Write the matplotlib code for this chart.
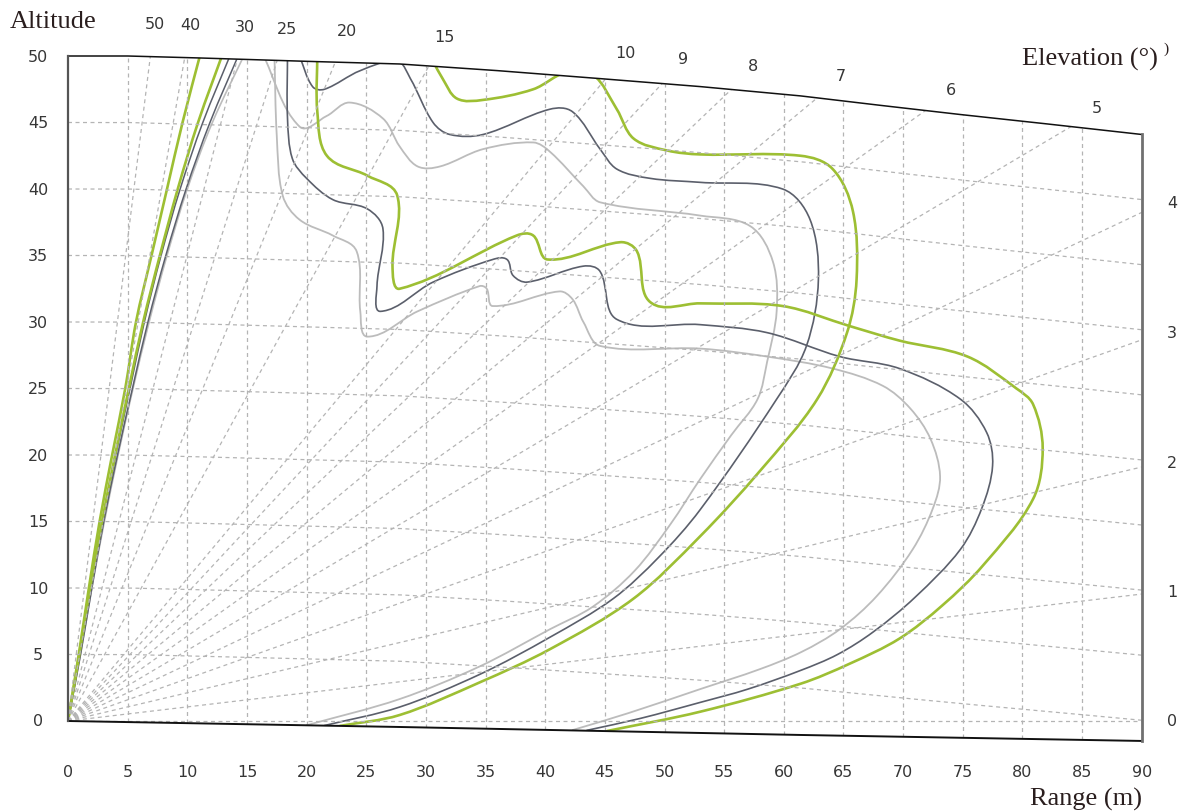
import numpy as np
import matplotlib
matplotlib.use("Agg")
import matplotlib.pyplot as plt
from matplotlib.patches import Polygon, PathPatch
from matplotlib.path import Path

# outline of the chart: upper altitude limit and the ground line
top_x = [0, 5, 11.1, 20, 27.8, 36, 44.6, 53, 61.4, 68, 74.8, 82, 90]
top_y = [50.0, 50.0, 49.85, 49.6, 49.4, 48.9, 48.3, 47.7, 47.0, 46.3, 45.6, 44.9, 44.1]
ground_x = [0, 27.8, 61.4, 90]
ground_y = [0, -0.45, -1.05, -1.5]

range_ticks = list(range(0, 95, 5))
alt_ticks = list(range(0, 55, 5))
alt_lines = list(range(5, 50, 5))
elev_top = [50, 40, 30, 25, 20, 15, 10, 9, 8, 7, 6, 5]
elev_side = [4, 3, 2, 1, 0]
K = 6.076  # altitude units per range unit

# high-angle lobe edges (range at each altitude)
lobe_alt = [0, 5, 10, 15, 20, 25, 30, 35, 40, 45, 50.5]
green_l1 = [0, 0.9, 1.75, 2.65, 3.7, 4.8, 5.7, 7.0, 8.3, 9.6, 11.2]
green_l2 = [0, 0.95, 1.85, 2.85, 3.95, 5.1, 6.3, 7.7, 9.2, 10.9, 13.1]
dark_l1 = [0, 1.0, 1.9, 2.9, 4.0, 5.2, 6.4, 7.8, 9.4, 11.3, 13.8]
dark_l2 = [0, 1.05, 2.0, 3.0, 4.15, 5.4, 6.7, 8.2, 9.9, 11.9, 14.5]
light_l1 = [0, 1.05, 2.0, 3.05, 4.2, 5.45, 6.8, 8.3, 10.0, 12.1, 15.0]

# first coverage contour
green_a_x = [22.8, 27.8, 34.5, 40.4, 47.4, 53.0, 58.0, 62.8, 65.3, 66.1, 65.8, 64.1, 61.4, 53.0,
             50.2, 47.4, 46.0, 44.0, 41.8, 39.0, 34.8, 32.6, 31.4, 30.6]
green_a_y = [-0.37, 0.45, 2.9, 5.4, 9.2, 13.9, 18.8, 24.2, 29.2, 33.2, 38.3, 41.5, 42.5, 42.6,
             42.9, 43.8, 46.0, 48.6, 48.8, 47.5, 46.7, 46.8, 48.3, 49.6]
dark_a_x = [21.5, 27.8, 34.5, 40.4, 45.7, 49.5, 53.0, 59.4, 61.9, 62.9, 62.2, 59.9, 53.0, 48.8,
            46.0, 44.6, 42.3, 40.4, 34.8, 32.0, 30.6, 28.7, 27.6, 24.5, 21.5, 20.5, 19.4]
dark_a_y = [-0.34, 1.05, 3.5, 6.3, 9.2, 12.3, 15.9, 24.2, 28.2, 33.2, 37.7, 40.0, 40.5, 40.8,
            41.5, 43.0, 45.8, 46.0, 44.1, 44.1, 45.0, 48.3, 49.6, 48.9, 47.5, 47.7, 50.0]
light_a_x = [20.0, 27.8, 34.5, 40.4, 44.0, 47.5, 50.5, 53.0, 55.6, 57.8, 58.6, 59.4, 59.1, 57.2,
             53.0, 44.6, 43.2, 40.4, 39.0, 34.8, 31.2, 29.3, 27.8, 26.4, 23.6, 21.7, 19.4, 16.3]
light_a_y = [-0.32, 1.65, 4.1, 6.9, 8.6, 11.3, 14.8, 18.2, 21.5, 24.2, 27.0, 30.8, 34.5, 37.2,
             38.0, 39.0, 40.2, 42.8, 43.5, 43.0, 41.7, 41.7, 43.2, 45.3, 46.5, 45.5, 44.7, 50.2]

# second coverage contour
green_b_x = [45.2, 53.0, 61.4, 65.5, 69.7, 73.3, 76.7, 80.9, 81.7, 80.9, 79.5, 75.4, 69.7, 65.5,
             59.9, 53.0, 48.8, 47.7, 46.3, 40.2, 39.0, 37.6, 27.8, 27.2, 27.6, 25.1, 21.7, 20.9, 20.9]
green_b_y = [-0.75, 0.7, 2.8, 4.3, 6.2, 8.7, 11.7, 16.7, 20.5, 23.8, 25.0, 27.4, 28.6, 29.7,
             31.2, 31.4, 31.5, 35.3, 36.0, 34.7, 36.5, 36.5, 32.5, 34.2, 39.5, 41.0, 42.5, 45.8, 50.2]
dark_b_x = [43.5, 48.0, 53.0, 57.0, 61.4, 64.5, 67.5, 71.0, 74.8, 76.6, 77.5, 77.0, 74.8, 69.7,
            64.7, 58.6, 53.0, 46.0, 44.6, 43.2, 38.5, 37.3, 36.8, 35.6, 30.6, 26.2, 25.9, 26.4,
            25.1, 22.2, 20.0, 18.8, 18.4, 18.4]
dark_b_y = [-0.7, 0.2, 1.4, 2.4, 3.8, 5.0, 6.7, 9.3, 12.9, 16.0, 19.2, 21.7, 24.2, 26.5,
            27.4, 29.2, 29.8, 30.2, 33.8, 34.2, 33.0, 33.5, 34.7, 34.7, 33.0, 30.8, 32.7, 37.0,
            38.5, 39.2, 40.8, 42.3, 45.3, 50.2]
light_b_x = [42.3, 47.0, 53.0, 58.0, 61.5, 64.7, 67.8, 70.8, 72.5, 73.1, 72.3, 70.6, 68.3, 64.1,
             58.6, 53.0, 44.6, 43.2, 42.3, 41.2, 35.6, 35.1, 34.5, 29.3, 25.1, 24.5, 24.2, 22.2,
             19.4, 18.0, 17.5, 17.3]
light_b_y = [-0.68, 0.6, 2.4, 3.9, 5.2, 6.9, 9.4, 12.9, 16.0, 18.4, 21.2, 23.5, 25.2, 26.5,
             27.4, 28.0, 28.2, 30.0, 31.7, 32.3, 31.2, 32.5, 32.7, 30.8, 28.9, 30.8, 35.3, 36.5,
             37.7, 39.5, 44.0, 50.2]

GREEN = '#9dbf33'
DARK = '#5b5f6b'
LIGHT = '#bcbcbc'
GRID = '#b4b4b4'
TXT = '#363636'

fig = plt.figure(figsize=(11.85, 8.12), dpi=100)
ax = fig.add_axes([0.03725, 0.05351, 0.94635, 0.91724])
ax.set_xlim(-2, 92)
ax.set_ylim(-3.5, 52.5)
ax.axis('off')

xs = np.linspace(0, 90, 721)
top = np.interp(xs, top_x, top_y)
gnd = np.interp(xs, ground_x, ground_y)
frame = Polygon(np.column_stack([np.r_[xs, xs[::-1]], np.r_[top, gnd[::-1]]]),
                closed=True, transform=ax.transData)


def clipped(line):
    for ln in line:
        ln.set_clip_path(frame)


def smooth(x, y, color, lw):
    # bezier path through the points, tangents scaled by segment length
    p = np.column_stack([x, y])
    n = len(p)

    def tan(i):
        t = p[min(i + 1, n - 1)] - p[max(i - 1, 0)]
        return t / np.hypot(*t)

    verts, codes = [p[0]], [Path.MOVETO]
    for i in range(n - 1):
        seg = np.hypot(*(p[i + 1] - p[i])) / 3
        verts += [p[i] + tan(i) * seg, p[i + 1] - tan(i + 1) * seg, p[i + 1]]
        codes += [Path.CURVE4] * 3
    patch = PathPatch(Path(verts, codes), fill=False, edgecolor=color, lw=lw,
                      joinstyle='round', capstyle='round')
    ax.add_patch(patch)
    patch.set_clip_path(frame)


grid_kw = dict(color=GRID, lw=0.9, ls=(0, (3.2, 2.8)))

# range grid
for r in range_ticks[1:-1]:
    clipped(ax.plot([r, r], [np.interp(r, ground_x, ground_y), np.interp(r, top_x, top_y)], **grid_kw))

# altitude lines bend down with the earth's curvature
drop = 50 - top
for h in alt_lines:
    clipped(ax.plot(xs, h - drop * (0.82 + 0.0036 * h), **grid_kw))

# elevation rays from the antenna
for th in elev_top + elev_side:
    m = np.tan(np.radians(th)) * K
    clipped(ax.plot([0, 95], [0, 95 * m], **grid_kw))

# coverage contours
smooth(light_l1, lobe_alt, LIGHT, 1.2)
for xl in (dark_l1, dark_l2):
    smooth(xl, lobe_alt, DARK, 1.1)
for xl in (green_l1, green_l2):
    smooth(xl, lobe_alt, GREEN, 1.9)

for cx, cy in ((light_a_x, light_a_y), (light_b_x, light_b_y)):
    smooth(cx, cy, LIGHT, 1.3)
for cx, cy in ((dark_a_x, dark_a_y), (dark_b_x, dark_b_y)):
    smooth(cx, cy, DARK, 1.2)
for cx, cy in ((green_a_x, green_a_y), (green_b_x, green_b_y)):
    smooth(cx, cy, GREEN, 1.9)

# frame
ax.plot(top_x, top_y, color='#111111', lw=1.1)
ax.plot(ground_x, ground_y, color='#111111', lw=1.4)
ax.plot([0, 0], [0, 50], color='#555555', lw=1.6)
ax.plot([90, 90], [ground_y[-1], top_y[-1]], color='#707070', lw=2.0)

# tick labels
for r in range_ticks:
    ax.text(r, -3.76, str(r), ha='center', va='center', fontsize=11.5, color=TXT)
for a in alt_ticks:
    ax.text(-2.5, a, str(a), ha='center', va='center', fontsize=11.5, color=TXT)

p0 = ax.transData.transform((0, 0))
for th in elev_top:
    m = np.tan(np.radians(th)) * K
    i = np.argmax(xs * m >= top)
    p1 = ax.transData.transform((1, m))
    phi = np.arctan2(p1[1] - p0[1], p1[0] - p0[0])
    ax.annotate(str(th), (xs[i], top[i]), xytext=(21 * np.cos(phi), 21 * np.sin(phi) + 3),
                textcoords='offset points', ha='center', va='center', fontsize=11.5, color=TXT)
for th in elev_side:
    m = np.tan(np.radians(th)) * K
    ax.annotate(str(th), (90, 90 * m), xytext=(22, 1.8 * th), textcoords='offset points',
                ha='center', va='center', fontsize=11.5, color=TXT)

serif = dict(family='Liberation Serif', fontsize=19, color='#2a1e1e')
ax.text(-4.86, 52.6, 'Altitude', ha='left', va='center', **serif)
ax.text(80.0, 49.8, 'Elevation (°)', ha='left', va='center', **serif)
ax.text(91.8, 50.6, ')', ha='left', va='center', family='Liberation Serif', fontsize=11, color='#2a1e1e')
ax.text(80.6, -5.86, 'Range (m)', ha='left', va='center', **serif)

fig.savefig('out.png', dpi=100)
